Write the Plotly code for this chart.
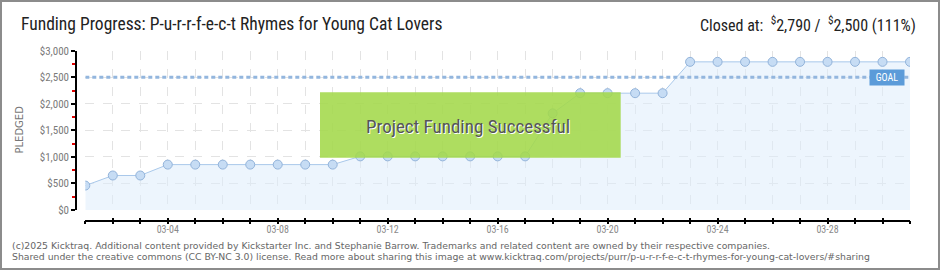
import plotly.graph_objects as go

# ---- data ----
dates = [f"2025-03-{d:02d}" for d in range(1, 32)]
pledged = [460, 650, 650, 855, 855, 855, 855, 855, 855, 855,
           1010, 1010, 1010, 1010, 1010, 1010, 1010, 1820, 2200, 2200,
           2200, 2200, 2790, 2790, 2790, 2790, 2790, 2790, 2790, 2790, 2790]
goal = 2500
xtick_vals = ["2025-03-04", "2025-03-08", "2025-03-12", "2025-03-16",
              "2025-03-20", "2025-03-24", "2025-03-28"]
xtick_text = ["03-04", "03-08", "03-12", "03-16", "03-20", "03-24", "03-28"]
ytick_vals = [0, 500, 1000, 1500, 2000, 2500, 3000]
ytick_text = ["$0", "$500", "$1,000", "$1,500", "$2,000", "$2,500", "$3,000"]
title_text = "Funding Progress: P-u-r-r-f-e-c-t Rhymes for Young Cat Lovers"
closed_text = "Closed at:  <sup>$</sup>2,790 /  <sup>$</sup>2,500 (111%)"
footer_lines = [
    "(c)2025 Kicktraq. Additional content provided by Kickstarter Inc. and Stephanie Barrow. Trademarks and related content are owned by their respective companies.",
    "Shared under the creative commons (CC BY-NC 3.0) license. Read more about sharing this image at www.kicktraq.com/projects/purr/p-u-r-r-f-e-c-t-rhymes-for-young-cat-lovers/#sharing",
]

W, H = 940, 270
SQ = "Liberation Sans Narrow, Roboto Condensed, Roboto, sans-serif"

def px(x):
    return x / W

def py(y):
    return 1 - y / H

x_dom = [px(85.3), px(910)]
y_dom = [py(210), py(50.7)]
x_axis_pos = py(220.7)
y_axis_pos = px(76)

fig = go.Figure()

fig.add_trace(go.Scatter(
    x=dates, y=pledged, mode="lines+markers",
    line=dict(color="#a9c8ea", width=1),
    fill="tozeroy", fillcolor="rgba(222,236,252,0.55)",
    marker=dict(size=9, color="#c6dcf4", line=dict(color="#92b3da", width=1)),
    hoverinfo="skip", showlegend=False,
))

fig.add_trace(go.Scatter(
    x=[dates[0], dates[-1]], y=[goal, goal], mode="lines",
    line=dict(color="#93b6de", width=3, dash="4px,3px"),
    hoverinfo="skip", showlegend=False,
))

# invisible helper so the secondary x axis (upper halves of ticks) is drawn
fig.add_trace(go.Scatter(
    x=[dates[0]], y=[0], xaxis="x2", mode="markers",
    marker=dict(opacity=0), hoverinfo="skip", showlegend=False,
))

grid = dict(gridcolor="#e3e3e3", griddash="dash", gridwidth=1)

fig.update_layout(
    width=W, height=H,
    margin=dict(l=0, r=0, t=0, b=0),
    paper_bgcolor="white", plot_bgcolor="white",
    xaxis=dict(
        type="date", range=[dates[0], dates[-1]], domain=x_dom,
        anchor="free", position=x_axis_pos,
        showline=True, linecolor="#000", linewidth=1.5,
        tickvals=xtick_vals, ticktext=xtick_text,
        ticks="outside", ticklen=3, tickcolor="#000", tickwidth=1.5,
        ticklabelstandoff=-3,
        tickfont=dict(family=SQ, size=10, color="#8a8a8a"),
        minor=dict(dtick=86400000, tick0=dates[0], ticks="outside", ticklen=3,
                   tickcolor="#000", tickwidth=1.5, showgrid=True,
                   gridcolor="#e3e3e3", griddash="dash"),
        zeroline=False, automargin=False, fixedrange=True,
        **grid,
    ),
    xaxis2=dict(
        type="date", range=[dates[0], dates[-1]], domain=x_dom,
        overlaying="x", anchor="free", position=x_axis_pos,
        showline=False, showgrid=False, showticklabels=False,
        tickvals=xtick_vals, ticks="inside", ticklen=3,
        tickcolor="#000", tickwidth=1.5,
        minor=dict(dtick=86400000, tick0=dates[0], ticks="inside", ticklen=3,
                   tickcolor="#000", tickwidth=1.5, showgrid=False),
        zeroline=False, automargin=False,
    ),
    yaxis=dict(
        range=[0, 3000], domain=y_dom,
        anchor="free", position=y_axis_pos,
        showline=True, linecolor="#000", linewidth=1.5,
        tickvals=ytick_vals, ticktext=ytick_text,
        ticks="outside", ticklen=4, tickcolor="#000", tickwidth=1.5,
        tickfont=dict(family=SQ, size=11, color="#7a7a7a"),
        minor=dict(dtick=500, tick0=250, ticks="outside", ticklen=3,
                   tickcolor="#e00000", tickwidth=1.5, showgrid=False),
        zeroline=False, automargin=False, fixedrange=True,
        **grid,
    ),
)

shapes = [
    # success box
    dict(type="rect", xref="paper", yref="paper",
         x0=px(320), x1=px(620.7), y0=py(157.7), y1=py(92.3),
         fillcolor="#a3d84a", opacity=0.88, line=dict(width=0), layer="above"),
    # outer frame
    dict(type="rect", xref="paper", yref="paper",
         x0=px(1), x1=px(939), y0=py(269), y1=py(1),
         line=dict(color="#8c8c8c", width=2), fillcolor="rgba(0,0,0,0)"),
]
fig.update_layout(shapes=shapes)

annotations = [
    dict(text=title_text, xref="paper", yref="paper", x=px(19), y=py(24),
         xanchor="left", yanchor="middle", showarrow=False,
         font=dict(family=SQ, size=17.5, color="#222")),
    dict(text=closed_text, xref="paper", yref="paper", x=px(918), y=py(24),
         xanchor="right", yanchor="middle", showarrow=False,
         font=dict(family=SQ, size=16, color="#222")),
    dict(text="PLEDGED", xref="paper", yref="paper", x=px(19.5), y=py(130),
         xanchor="center", yanchor="middle", textangle=-90, showarrow=False,
         font=dict(family="DejaVu Sans, sans-serif", size=10, color="#777")),
    dict(text="GOAL", xref="paper", yref="y", x=px(905.3), y=goal,
         xanchor="right", yanchor="middle", showarrow=False,
         bgcolor="#5b9bd9", borderpad=2, width=30,
         font=dict(family=SQ, size=10, color="white")),
    dict(text="Project Funding Successful", xref="paper", yref="paper",
         x=px(468), y=py(126), xanchor="center", yanchor="middle", showarrow=False,
         font=dict(family=SQ, size=19, color="#555",
                   shadow="1px 1px 0px #ffffff")),
    dict(text=footer_lines[0], xref="paper", yref="paper", x=px(10), y=py(245.5),
         xanchor="left", yanchor="middle", showarrow=False,
         font=dict(family="DejaVu Sans, Verdana, sans-serif", size=9.3, color="#666")),
    dict(text=footer_lines[1], xref="paper", yref="paper", x=px(10), y=py(256),
         xanchor="left", yanchor="middle", showarrow=False,
         font=dict(family="DejaVu Sans, Verdana, sans-serif", size=9.3, color="#666")),
]
fig.update_layout(annotations=annotations)

fig.write_html("out.html")
